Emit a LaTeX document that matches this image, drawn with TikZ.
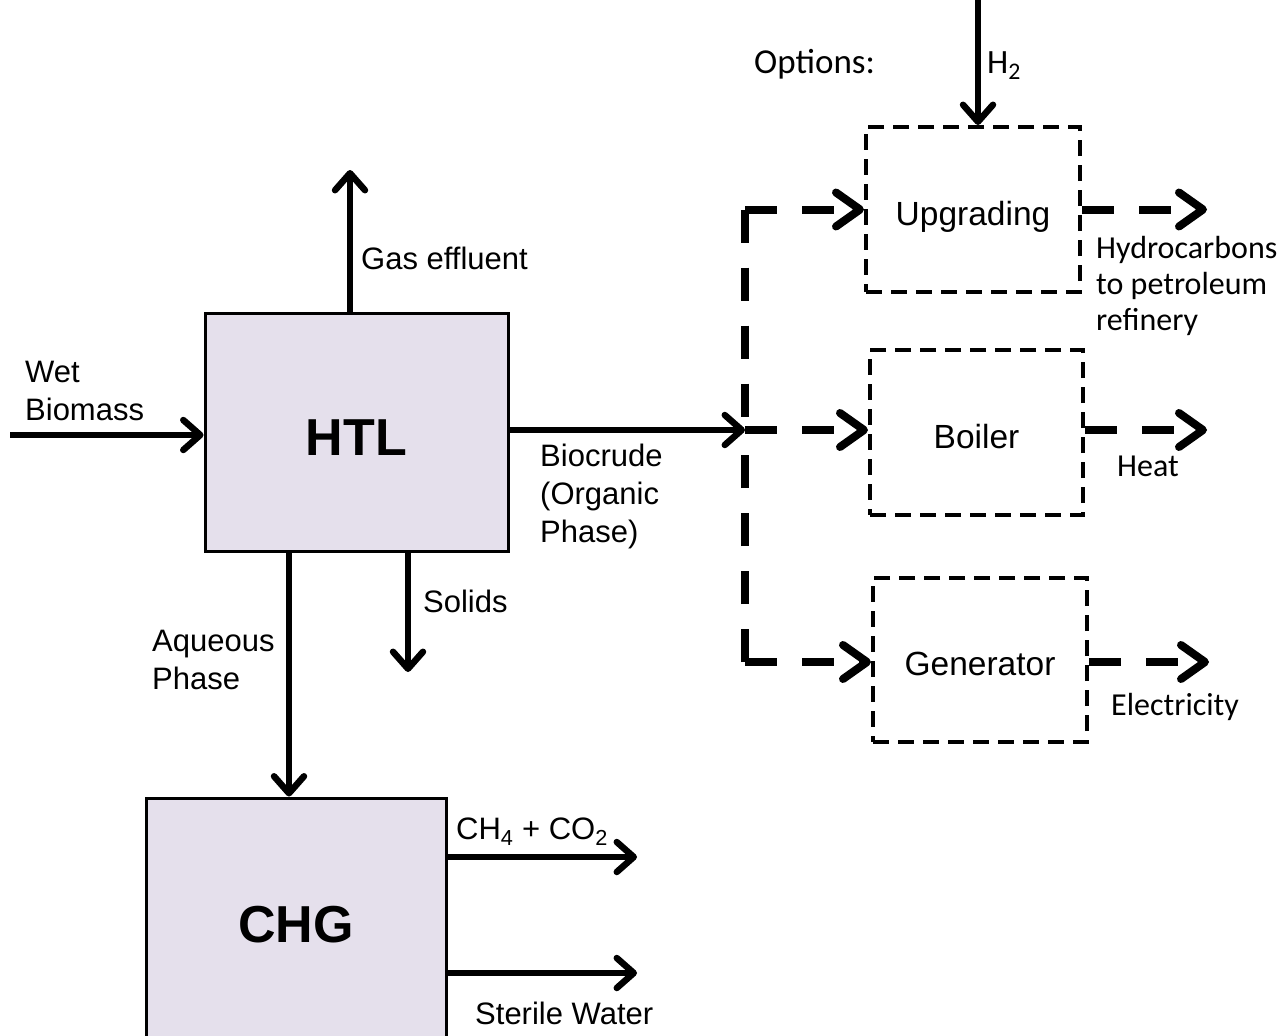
\documentclass[tikz,border=0pt]{standalone}
\usepackage{fontspec}
\setmainfont{Liberation Sans}
\newfontfamily\calfont{Carlito}
\usetikzlibrary{arrows.meta}
\definecolor{unitfill}{RGB}{229,224,236}
\tikzset{
  unit/.style={draw, line width=3pt, fill=unitfill, font=\fontsize{52}{60}\selectfont\bfseries},
  option/.style={draw, line width=4pt, dash pattern=on 16pt off 9pt, font=\fontsize{33.5}{40}\selectfont,
    inner sep=0pt, text height=31pt, text depth=0pt},
  flow/.style={line width=6.5pt, -{Straight Barb[length=17pt, width=30pt, line cap=round, line join=round]}},
  optflow/.style={line width=8pt, dash pattern=on 32pt off 25pt, -{Straight Barb[length=24pt, width=34pt, line cap=round, line join=round]}},
  trunk/.style={line width=8pt, dash pattern=on 33pt off 25pt},
  lbl/.style={font=\fontsize{31}{38}\selectfont, inner sep=0pt, align=left},
  clbl/.style={font=\calfont\fontsize{32}{36}\selectfont, inner sep=0pt, align=left},
}
\begin{document}
\begin{tikzpicture}[x=1pt,y=-1pt]
\clip (0,0) rectangle (1283,1036);

% process units
\node[unit, minimum width=303pt, minimum height=238pt, text height=47pt, text depth=0pt] (htl) at (356.5,432) {HTL};
\node[unit, minimum width=300pt, minimum height=254pt] (chg) at (296,925) {CHG};

% optional downstream units
\node[option, minimum width=214pt, minimum height=165pt] (upg) at (973,209.5) {Upgrading};
\node[option, minimum width=213pt, minimum height=165pt] (boil) at (976.5,432.5) {Boiler};
\node[option, minimum width=214pt, minimum height=164pt] (gen) at (980,660) {Generator};

% free ends of the streams
\coordinate (wetsrc) at (10,435);
\coordinate (gasout) at (350,170);
\coordinate (solout) at (408,672);
\coordinate (aqx) at (289,0);
\coordinate (trunktop) at (745,209.5);
\coordinate (trunkmid) at (745,430);
\coordinate (trunkbot) at (745,662);
\coordinate (h2src) at (978,0);
\coordinate (hcout) at (1207,209.5);
\coordinate (heatout) at (1207,430);
\coordinate (elecout) at (1209,662);
\coordinate (ghgout) at (637,857);
\coordinate (waterout) at (637,973);

% main streams
\draw[flow] (wetsrc) -- (wetsrc -| htl.west);
\draw[flow] (htl.north -| gasout) -- (gasout);
\draw[flow] (htl.south -| solout) -- (solout);
\draw[flow] (htl.south -| aqx) -- (chg.north -| aqx);
\draw[flow] (htl.east |- trunkmid) -- (trunkmid);
\draw[flow] (h2src) -- (upg.north -| h2src);
\draw[flow] (chg.east |- ghgout) -- (ghgout);
\draw[flow] (chg.east |- waterout) -- (waterout);

% biocrude distribution to the options
\draw[trunk] (trunktop) -- (trunkmid);
\draw[trunk] (trunkbot) -- (trunkmid);
\draw[optflow] (trunktop) -- (upg.west);
\draw[optflow] (trunkmid) -- (trunkmid -| boil.west);
\draw[optflow] (trunkbot) -- (trunkbot -| gen.west);
\draw[optflow] (upg.east) -- (hcout);
\draw[optflow] (boil.east |- heatout) -- (heatout);
\draw[optflow] (gen.east |- elecout) -- (elecout);

% stream labels (base anchor sits on the last line)
\node[lbl, anchor=base west] (wetlbl) at (25,420) {Wet\\Biomass};
\node[lbl, anchor=base west] (gaslbl) at (361,269) {Gas effluent};
\node[lbl, anchor=base west] (biolbl) at (540,542) {Biocrude\\(Organic\\Phase)};
\node[lbl, anchor=base west] (sollbl) at (423,612) {Solids};
\node[lbl, anchor=base west] (aqlbl) at (152,689) {Aqueous\\Phase};
\node[lbl, anchor=base west] (ghglbl) at (456,839) {CH\textsubscript{4} + CO\textsubscript{2}};
\node[lbl, anchor=base west] (waterlbl) at (475,1024) {Sterile Water};
\node[clbl, anchor=base west, font=\calfont\fontsize{35}{40}\selectfont] (optlbl) at (754,73) {Options:};
\node[clbl, anchor=base west, font=\calfont\fontsize{34}{40}\selectfont] (h2lbl) at (987,73) {H\textsubscript{2}};
\node[clbl, anchor=base west] (hclbl) at (1096,330) {Hydrocarbons\\to petroleum\\refinery};
\node[clbl, anchor=base west] (heatlbl) at (1117,476) {Heat};
\node[clbl, anchor=base west] (eleclbl) at (1111,715) {Electricity};
\end{tikzpicture}
\end{document}
